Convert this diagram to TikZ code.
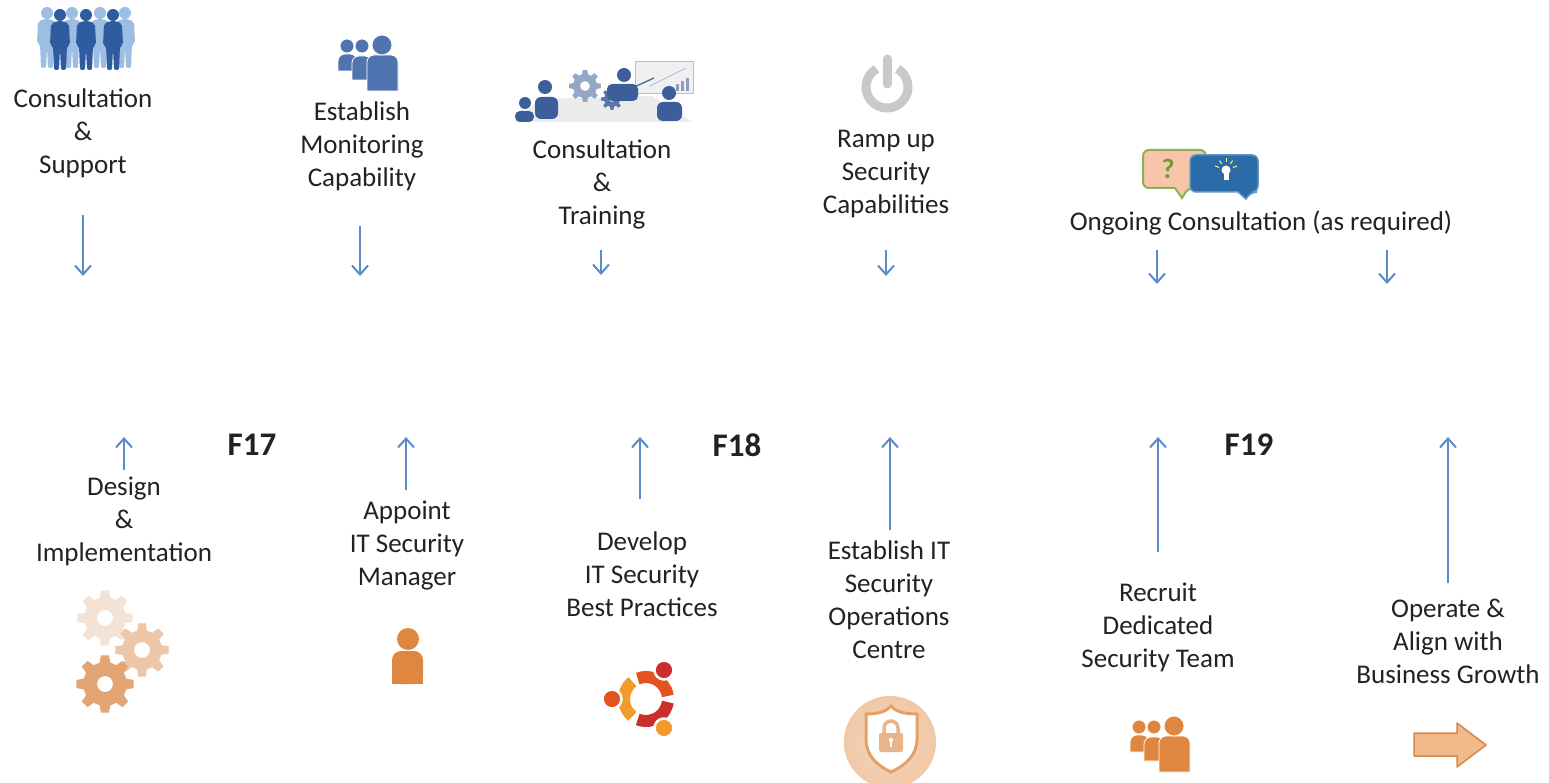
\documentclass[tikz,border=0pt]{standalone}
\usepackage{fontspec}
\setmainfont{Carlito}
\usetikzlibrary{arrows.meta}

\definecolor{txt}{HTML}{222222}
\definecolor{flow}{HTML}{5B8BC9}
\definecolor{navy}{HTML}{3C5E9A}
\definecolor{teamblue}{HTML}{4F74B0}
\definecolor{paleblue}{HTML}{9DBEE3}
\definecolor{deepblue}{HTML}{2F5C9E}
\definecolor{powgray}{HTML}{C9C9C9}
\definecolor{orangeA}{HTML}{E0873F}
\definecolor{gearA}{HTML}{F4E3D5}
\definecolor{gearB}{HTML}{EDC7AA}
\definecolor{gearC}{HTML}{E3A574}
\definecolor{ubA}{HTML}{E2531E}
\definecolor{ubB}{HTML}{F29A2E}
\definecolor{ubC}{HTML}{C9302C}
\definecolor{shieldbg}{HTML}{F0C8A6}
\definecolor{shieldedge}{HTML}{E3A165}
\definecolor{lockc}{HTML}{E8B48C}
\definecolor{arrowfill}{HTML}{F2B98A}
\definecolor{arrowedge}{HTML}{D6884A}
\definecolor{bubbleA}{HTML}{F7C6AA}
\definecolor{bubbleAedge}{HTML}{8DB055}
\definecolor{bubbleB}{HTML}{2B6CA8}
\definecolor{bubbleBedge}{HTML}{5E95C8}
\definecolor{qgreen}{HTML}{6E9B3C}

% gear: centre, tooth radius, root radius, hole radius, colour
\newcommand\cogwheel[5]{%
  \fill[#5,even odd rule,shift={#1}] (-14:#3)
    \foreach \a in {0,45,...,315}{ -- ({\a-14}:#3) -- ({\a-8}:#2) -- ({\a+8}:#2) -- ({\a+14}:#3) }
    -- cycle (0,0) circle (#4);}

% standing figure: x, top y, colour
\newcommand\figureman[3]{%
  \begin{scope}[shift={(#1,#2)}]
    \fill[#3] (0,6) circle (6);
    \fill[#3,rounded corners=2pt] (-3,12) -- (3,12) -- (9,15) -- (10,36) -- (7,37) -- (6,61)
      -- (1,61) -- (0,40) -- (-1,61) -- (-6,61) -- (-7,37) -- (-10,36) -- (-9,15) -- cycle;
  \end{scope}}

% group of three people: top-left corner, colour
\newcommand\teamicon[2]{%
  \begin{scope}[shift={#1}]
    \foreach \xa/\xb/\ya/\yb/\hx/\hy/\hr in {0/19/19/36/9/11/7, 14/34/21/45/24/11/7, 29/60/20/56/44/10/10}{
      \filldraw[fill=#2,draw=white,line width=0.8pt] (\xa,\yb) [rounded corners=7pt] -- (\xa,\ya) -- (\xb,\ya) [sharp corners] -- (\xb,\yb) -- cycle;
      \filldraw[fill=#2,draw=white,line width=0.8pt] (\hx,\hy) circle (\hr);
    }
  \end{scope}}

\begin{document}
\begin{tikzpicture}[x=1pt,y=-1pt,
  lbl/.style={align=center,text=txt,font=\fontsize{27}{33}\selectfont,inner sep=0pt},
  phase/.style={text=txt,font=\fontsize{33}{40}\selectfont\bfseries,inner sep=0pt},
  flowarrow/.style={draw=flow,line width=2pt,-{Straight Barb[length=9pt,width=16pt,line width=2pt]}}]

\useasboundingbox (0,0) rectangle (1549,783);
\fill[white] (0,0) rectangle (1549,783);

% ---------- upper row: icons ----------
% people silhouettes
\foreach \x in {47,72,100,125} {\figureman{\x}{7}{paleblue}}
\foreach \x in {60,86,113} {\figureman{\x}{9}{deepblue}}

% monitoring team
\teamicon{(338,35)}{teamblue}

% training scene
\fill[black!8] (540,99) -- (652,96) -- (692,122) -- (515,122) -- cycle;
\filldraw[fill=blue!5!black!6,draw=navy!40,line width=1pt] (635,62) rectangle (693,94);
\foreach \bx/\bh in {671/4,676/7,681/10,686/13} {\fill[navy!60] (\bx,91) rectangle ++(3,-\bh);}
\draw[navy!45,line width=0.8pt] (650,86) -- (686,68);
\cogwheel{(585,86)}{16}{12}{5}{navy!55}
\cogwheel{(612,99)}{11}{8}{3}{navy!85}
\fill[navy] (525,103) circle (6);
\fill[navy,rounded corners=5pt] (515,122) -- (515,111) -- (534,111) -- (534,122) -- cycle;
\fill[navy] (545,87) circle (7);
\fill[navy,rounded corners=6pt] (535,119) -- (535,97) -- (558,97) -- (558,119) -- cycle;
\fill[navy] (624,75) circle (7);
\fill[navy,rounded corners=5pt] (607,101) -- (607,84) -- (638,84) -- (638,101) -- cycle;
\draw[navy,line width=1.2pt] (632,88) -- (654,78);
\fill[navy] (669,93) circle (7);
\fill[navy,rounded corners=6pt] (657,121) -- (657,102) -- (682,102) -- (682,121) -- cycle;

% power symbol
\draw[powgray,line width=9pt] (887,87) ++(-60:21) arc[start angle=-60,end angle=240,radius=21];
\draw[powgray,line width=9pt,line cap=round] (887,59) -- (887,84);

% speech bubbles
\filldraw[fill=bubbleA,draw=bubbleAedge,line width=2pt,rounded corners=6pt]
  (1143,150) -- (1206,150) -- (1206,188) -- (1188,188) [sharp corners] -- (1182,198) -- (1175,188)
  [rounded corners=6pt] -- (1143,188) -- cycle;
\node[text=qgreen,font=\fontsize{28}{28}\selectfont\bfseries,inner sep=0pt] (qmark) at (1168,169) {?};
\filldraw[fill=bubbleB,draw=bubbleBedge,line width=1.5pt,rounded corners=6pt]
  (1190,155) -- (1258,155) -- (1258,192) -- (1251,192) [sharp corners] -- (1246,199) -- (1238,192)
  [rounded corners=6pt] -- (1190,192) -- cycle;
\fill[white] (1226,170) circle (4.5);
\fill[white] (1223.5,173) rectangle (1228.5,180);
\foreach \r in {-160,-125,-90,-55,-20} {\draw[yellow!60,line width=1pt] (1226,170) ++(\r:7.5) -- ++(\r:4);}

% ---------- upper row: labels ----------
\node[lbl] (t1) at (83,133) {Consultation\\\&\\Support};
\node[lbl] (t2) at (362,146) {Establish\\Monitoring\\Capability};
\node[lbl] (t3) at (602,184) {Consultation\\\&\\Training};
\node[lbl] (t4) at (886,174) {Ramp up\\Security\\Capabilities};
\node[lbl] (t5) at (1261,223) {Ongoing Consultation (as required)};

% ---------- phase labels ----------
\node[phase] (f17) at (252,445) {F17};
\node[phase] (f18) at (737,445) {F18};
\node[phase] (f19) at (1249,445) {F19};

% ---------- lower row: labels ----------
\node[lbl] (b1) at (124,521) {Design\\\&\\Implementation};
\node[lbl] (b2) at (407,546) {Appoint\\IT Security\\Manager};
\node[lbl] (b3) at (642,574) {Develop\\IT Security\\Best Practices};
\node[lbl] (b4) at (889,600) {Establish IT\\Security\\Operations\\Centre};
\node[lbl] (b5) at (1158,627) {Recruit\\Dedicated\\Security Team};
\node[lbl] (b6) at (1448,641) {Operate \&\\Align with\\Business Growth};

% ---------- arrows ----------
\coordinate (d1s) at (83,215);   \coordinate (d1e) at (83,276);
\coordinate (d2s) at (360,226);  \coordinate (d2e) at (360,276);
\coordinate (d3s) at (601,250);  \coordinate (d3e) at (601,275);
\coordinate (d4s) at (886,250);  \coordinate (d4e) at (886,276);
\coordinate (d5s) at (1157,250); \coordinate (d5e) at (1157,284);
\coordinate (d6s) at (1387,250); \coordinate (d6e) at (1387,284);
\foreach \i in {1,...,6} {\draw[flowarrow] (d\i s) -- (d\i e);}

\coordinate (u1s) at (124,470);  \coordinate (u1e) at (124,437);
\coordinate (u2s) at (406,490);  \coordinate (u2e) at (406,437);
\coordinate (u3s) at (640,499);  \coordinate (u3e) at (640,437);
\coordinate (u4s) at (890,530);  \coordinate (u4e) at (890,437);
\coordinate (u5s) at (1158,552); \coordinate (u5e) at (1158,437);
\coordinate (u6s) at (1448,583); \coordinate (u6e) at (1448,437);
\foreach \i in {1,...,6} {\draw[flowarrow] (u\i s) -- (u\i e);}

% ---------- lower row: icons ----------
% gears
\cogwheel{(105,618)}{28}{21}{8}{gearA}
\cogwheel{(142,650)}{27}{20}{8}{gearB}
\cogwheel{(105,684)}{29}{22}{8}{gearC}

% single person
\fill[orangeA] (408,639) circle (11);
\fill[orangeA,rounded corners=9pt] (392,684) -- (392,651) -- (423,651) -- (423,684) -- cycle;
\fill[orangeA] (392,676) rectangle (423,684);

% circle of friends
\draw[ubA,line width=12pt] (646,699) ++(-8:22) arc[start angle=-8,end angle=-112,radius=22];
\draw[ubB,line width=12pt] (646,699) ++(-128:22) arc[start angle=-128,end angle=-232,radius=22];
\draw[ubC,line width=12pt] (646,699) ++(-248:22) arc[start angle=-248,end angle=-352,radius=22];
\filldraw[fill=ubA,draw=white,line width=2.5pt] (612,699) circle (9.5);
\filldraw[fill=ubC,draw=white,line width=2.5pt] (664,670) circle (9.5);
\filldraw[fill=ubB,draw=white,line width=2.5pt] (664,728) circle (9.5);

% shield badge
\shade[inner color=shieldbg!70,outer color=shieldbg] (890,742) circle (46);
\filldraw[fill=white,draw=shieldedge,line width=3pt]
  (866,714) .. controls (879,714) and (887,711) .. (891,706) .. controls (895,711) and (903,714) .. (917,714)
  -- (917,739) .. controls (917,755) and (906,765) .. (891,772) .. controls (876,765) and (866,755) .. (866,739) -- cycle;
\draw[lockc,line width=3.5pt] (884,735) -- (884,728) arc[start angle=180,end angle=360,radius=7] -- (898,735);
\fill[lockc,rounded corners=1.5pt] (879,733) rectangle (903,752);
\fill[white] (891,740) circle (2.2);
\fill[white] (890,741) rectangle (892,747);

% team
\teamicon{(1130,716)}{orangeA}

% block arrow
\filldraw[fill=arrowfill,draw=arrowedge,line width=1.5pt,line join=round]
  (1414,733) -- (1457,733) -- (1457,723) -- (1486,745) -- (1457,767) -- (1457,756) -- (1414,756) -- cycle;

\end{tikzpicture}
\end{document}
